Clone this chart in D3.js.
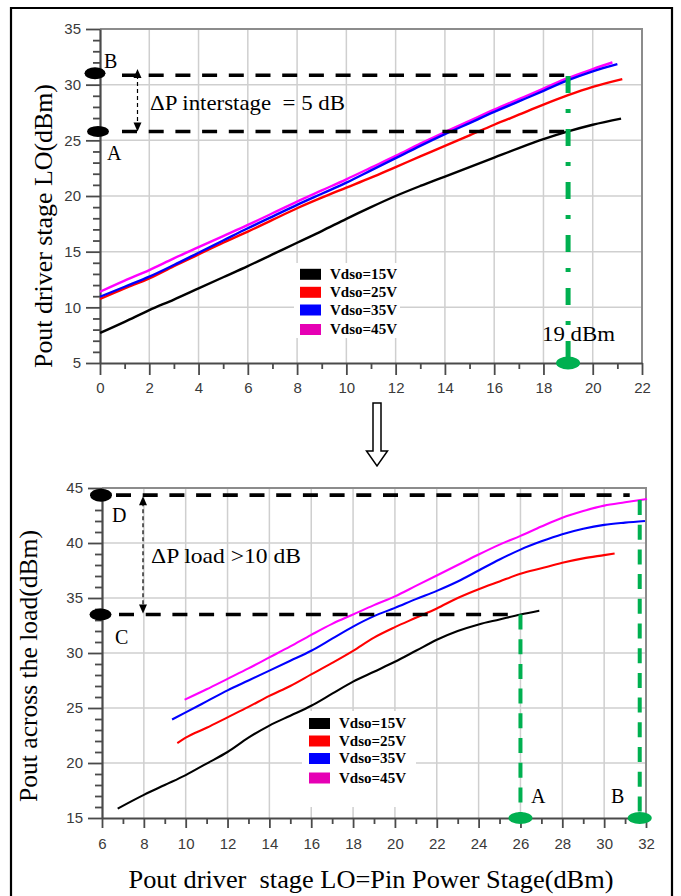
<!DOCTYPE html>
<html><head><meta charset="utf-8">
<script src="https://cdn.jsdelivr.net/npm/d3@7"></script>
<style>html,body{margin:0;padding:0;background:#fff;} svg{display:block} text{white-space:pre}</style>
</head><body><svg id="c" width="681" height="896"></svg>
<script>
// ---------- DATA ----------
const seriesNames = ["Vdso=15V", "Vdso=25V", "Vdso=35V", "Vdso=45V"];
const lineColors = ["#000000", "#ff0000", "#0000ff", "#ff00ff"];
const swatchColors = ["#000000", "#ff0000", "#0000ff", "#e600b4"];

// Top chart: Pin (dBm) -> Pout driver stage LO (dBm)
const top15 = [[0,7.7],[1,8.7],[2,9.75],[3,10.7],[4,11.7],[5,12.7],[6,13.7],[7,14.75],[8,15.8],[9,16.85],[10,17.95],[11,19.0],[12,20.0],[13,20.9],[14,21.75],[15,22.6],[16,23.45],[17,24.3],[18,25.1],[19,25.8],[20,26.4],[21.15,26.95]];
const top25 = [[0,10.75],[1,11.7],[2,12.6],[3,13.7],[4,14.75],[5,15.8],[6,16.8],[7,17.85],[8,18.9],[9,19.85],[10,20.75],[11,21.65],[12,22.6],[13,23.55],[14,24.5],[15,25.45],[16,26.4],[17,27.3],[18,28.2],[19,29.05],[20,29.8],[21.2,30.5]];
const top35 = [[0,10.95],[1,11.85],[2,12.75],[3,13.8],[4,14.9],[5,16.0],[6,17.1],[7,18.15],[8,19.2],[9,20.2],[10,21.2],[11,22.3],[12,23.4],[13,24.5],[14,25.55],[15,26.55],[16,27.55],[17,28.5],[18,29.45],[19,30.4],[20,31.2],[21.0,31.85]];
const top45 = [[0,11.4],[1,12.4],[2,13.35],[3,14.4],[4,15.4],[5,16.4],[6,17.4],[7,18.45],[8,19.5],[9,20.5],[10,21.5],[11,22.55],[12,23.6],[13,24.7],[14,25.75],[15,26.75],[16,27.75],[17,28.7],[18,29.65],[19,30.6],[20,31.4],[20.8,32.0]];

// Bottom chart: Pout driver stage LO = Pin power stage -> Pout across the load
const bot15 = [[6.75,15.85],[8,17.1],[9,18.0],[10,18.9],[11,19.95],[12,21.0],[13,22.3],[14,23.4],[15,24.3],[16,25.2],[17,26.3],[18,27.4],[19,28.3],[20,29.2],[21,30.2],[22,31.2],[23,32.0],[24,32.6],[25,33.05],[26,33.5],[26.9,33.85]];
const bot25 = [[9.6,21.8],[10,22.3],[11,23.2],[12,24.15],[13,25.1],[14,26.1],[15,27.0],[16,28.05],[17,29.1],[18,30.2],[19,31.4],[20,32.35],[21,33.2],[22,34.05],[23,35.0],[24,35.8],[25,36.5],[26,37.2],[27,37.7],[28,38.2],[29,38.6],[30,38.9],[30.5,39.05]];
const bot35 = [[9.35,23.95],[10,24.6],[11,25.6],[12,26.6],[13,27.5],[14,28.4],[15,29.3],[16,30.2],[17,31.3],[18,32.4],[19,33.35],[20,34.1],[21,34.9],[22,35.65],[23,36.5],[24,37.5],[25,38.5],[26,39.4],[27,40.15],[28,40.8],[29,41.3],[30,41.65],[31,41.85],[31.95,42.0]];
const bot45 = [[9.95,25.75],[11,26.7],[12,27.65],[13,28.6],[14,29.6],[15,30.6],[16,31.65],[17,32.65],[18,33.5],[19,34.35],[20,35.15],[21,36.1],[22,37.05],[23,38.0],[24,38.95],[25,39.85],[26,40.65],[27,41.5],[28,42.3],[29,42.9],[30,43.4],[31,43.7],[32.05,44.0]];

const topXTicks = [0,2,4,6,8,10,12,14,16,18,20,22];
const topYTicks = [5,10,15,20,25,30,35];
const botXTicks = [6,8,10,12,14,16,18,20,22,24,26,28,30,32];
const botYTicks = [15,20,25,30,35,40,45];

// annotation levels
const topLevelB = 30.85, topLevelA = 25.8, topMarker = 19;
const botLevelD = 44.35, botLevelC = 33.5, botMarkA = 26, botMarkB = 31.7;

const topYTitle = "Pout driver stage LO(dBm)";
const botYTitle = "Pout across the load(dBm)";
const botXTitle = "Pout driver  stage LO=Pin Power Stage(dBm)";
const topNote = "\u0394P interstage  = 5 dB";
const botNote = "\u0394P load >10 dB";
const topMarkerLabel = "19 dBm";

// ---------- DRAW ----------
const svg = d3.select("#c");
const GREEN = "#00b050";
const SERIF = "'Liberation Serif','Times New Roman',serif";
const SANS = "'Liberation Sans',Arial,sans-serif";

// outer frame
svg.append("path").attr("d","M11,896 V8 H672 V896").attr("fill","none").attr("stroke","#000").attr("stroke-width",2.2);

function range(a,b,s){const r=[];for(let v=a;v<=b+1e-9;v+=s)r.push(+v.toFixed(6));return r;}

function panel(cfg){
  const g = svg.append("g");
  const x = d3.scaleLinear().domain(cfg.xDom).range(cfg.xRange);
  const y = d3.scaleLinear().domain(cfg.yDom).range(cfg.yRange);
  const [xl,xr] = cfg.xRange, [yb,yt] = cfg.yRange;
  // grid
  g.append("g").selectAll("line").data(cfg.xTicks.slice(1,-1)).join("line")
    .attr("x1",d=>x(d)).attr("x2",d=>x(d)).attr("y1",yt).attr("y2",yb)
    .attr("stroke","#cfcfcf").attr("stroke-width",1.5);
  g.append("g").selectAll("line").data(cfg.yTicks.slice(1,-1)).join("line")
    .attr("y1",d=>y(d)).attr("y2",d=>y(d)).attr("x1",xl).attr("x2",xr)
    .attr("stroke","#cfcfcf").attr("stroke-width",1.5);
  // frame top/right
  g.append("path").attr("d",`M${xl},${yt} H${xr} V${yb}`).attr("fill","none").attr("stroke","#8c8c8c").attr("stroke-width",2);
  // legend background
  const L = cfg.legend;
  g.append("rect").attr("x",L.bg[0]).attr("y",L.bg[1]).attr("width",L.bg[2]).attr("height",L.bg[3]).attr("fill","#fff");
  L.rows.forEach((cy,i)=>{
    g.append("rect").attr("x",L.sx).attr("y",cy-5.5).attr("width",21).attr("height",11).attr("fill",swatchColors[i]);
    g.append("text").attr("x",L.tx).attr("y",cy+4.5).text(seriesNames[i])
      .attr("font-family",SERIF).attr("font-weight","bold").attr("font-size",14)
      .attr("textLength",67).attr("lengthAdjust","spacingAndGlyphs").attr("fill","#000");
  });
  // axes
  const minorX = range(cfg.xDom[0],cfg.xDom[1],1).filter(v=>!cfg.xTicks.includes(v));
  const minorY = range(cfg.yDom[0],cfg.yDom[1],1).filter(v=>!cfg.yTicks.includes(v));
  const ax = g.append("g").attr("transform",`translate(0,${yb})`);
  ax.call(d3.axisBottom(x).tickValues(cfg.xTicks).tickSize(cfg.xTickLen).tickPadding(cfg.xPad).tickSizeOuter(0).tickFormat(d3.format("d")));
  const axm = g.append("g").attr("transform",`translate(0,${yb})`);
  axm.call(d3.axisBottom(x).tickValues(minorX).tickSize(6).tickFormat("").tickSizeOuter(0));
  axm.select(".domain").remove();
  const ay = g.append("g").attr("transform",`translate(${xl},0)`);
  ay.call(d3.axisLeft(y).tickValues(cfg.yTicks).tickSize(14).tickPadding(5).tickSizeOuter(0).tickFormat(d3.format("d")));
  const aym = g.append("g").attr("transform",`translate(${xl},0)`);
  aym.call(d3.axisLeft(y).tickValues(minorY).tickSize(7).tickFormat("").tickSizeOuter(0));
  aym.select(".domain").remove();
  [ax,axm,ay,aym].forEach(a=>{
    a.selectAll(".domain").attr("stroke","#4a4a4a").attr("stroke-width",2.2);
    a.selectAll(".tick line").attr("stroke","#4a4a4a").attr("stroke-width",1.8);
    a.selectAll(".tick text").attr("font-family",SANS).attr("font-size",15).attr("fill","#3a3a3a");
  });
  // curves
  const line = d3.line().x(d=>x(d[0])).y(d=>y(d[1])).curve(d3.curveMonotoneX);
  cfg.series.forEach((s,i)=>{
    g.append("path").attr("d",line(s)).attr("fill","none").attr("stroke",lineColors[cfg.order[i]])
      .attr("stroke-width",cfg.lw).attr("stroke-linejoin","round");
  });
  return {g,x,y};
}

function dashedH(g, x1, x2, yy){
  g.append("line").attr("x1",x1).attr("x2",x2).attr("y1",yy).attr("y2",yy)
    .attr("stroke","#000").attr("stroke-width",3.6).attr("stroke-dasharray","15,11.7");
}
function dot(g, cx, cy, rx, ry, col){
  g.append("ellipse").attr("cx",cx).attr("cy",cy).attr("rx",rx).attr("ry",ry).attr("fill",col);
}
function dArrow(g, x, yTop, yBot){
  g.append("line").attr("x1",x).attr("x2",x).attr("y1",yTop+6).attr("y2",yBot-6)
    .attr("stroke","#000").attr("stroke-width",1.2).attr("stroke-dasharray","4,3");
  g.append("path").attr("d",`M${x},${yTop} L${x-4},${yTop+9} L${x+4},${yTop+9} Z`).attr("fill","#000");
  g.append("path").attr("d",`M${x},${yBot} L${x-4},${yBot-9} L${x+4},${yBot-9} Z`).attr("fill","#000");
}
function label(g, x, y, txt, size, len, anchor){
  const t = g.append("text").attr("x",x).attr("y",y).text(txt).attr("font-family",SERIF)
    .attr("font-size",size).attr("fill","#000").attr("text-anchor",anchor||"start");
  if(len) t.attr("textLength",len).attr("lengthAdjust","spacingAndGlyphs");
  return t;
}

// ---- top panel ----
const T = panel({
  xDom:[0,22], yDom:[5,35], xRange:[100,642], yRange:[363,29],
  xTicks:topXTicks, yTicks:topYTicks, xTickLen:12, xPad:7,
  series:[top15,top25,top45,top35], order:[0,1,3,2], lw:2.4,
  legend:{bg:[294,263,106,75], sx:300, tx:330, rows:[274.3,292.3,310,329.5]}
});
{
  const {g,x,y} = T;
  const yB = y(topLevelB), yA = y(topLevelA), xm = x(topMarker);
  dashedH(g, 122, xm-3, yB);
  dashedH(g, 122, xm-3, yA);
  dot(g, 95, yB-2, 10.5, 6, "#000");
  dot(g, 98, yA, 11, 5.5, "#000");
  label(g, 104, 68, "B", 20);
  label(g, 107, 160, "A", 20);
  dArrow(g, 137.5, 69, yA);
  label(g, 150, 110, topNote, 22, 195);
  // green dash-dot marker at 19 dBm
  g.append("line").attr("x1",xm).attr("x2",xm).attr("y1",76).attr("y2",y(5))
    .attr("stroke",GREEN).attr("stroke-width",5).attr("stroke-dasharray","17,16,4,16");
  dot(g, xm, y(5), 12, 6.5, GREEN);
  label(g, 542, 340.5, topMarkerLabel, 22, 73);
  g.append("text").attr("transform","translate(52,226) rotate(-90)").attr("text-anchor","middle")
    .attr("font-family",SERIF).attr("font-size",26).attr("textLength",284).attr("lengthAdjust","spacingAndGlyphs").text(topYTitle);
}

// ---- arrow between panels ----
svg.append("path").attr("d","M373,403 H381 V451 H387.5 L377,466 L366.5,451 H373 Z")
  .attr("fill","#fff").attr("stroke","#000").attr("stroke-width",1.5);

// ---- bottom panel ----
const B = panel({
  xDom:[6,32], yDom:[15,45], xRange:[102,646], yRange:[818,488],
  xTicks:botXTicks, yTicks:botYTicks, xTickLen:10, xPad:10,
  series:[bot15,bot25,bot35,bot45], order:[0,1,2,3], lw:2.1,
  legend:{bg:[302,711,114,96], sx:309, tx:339, rows:[723.5,741,758.5,778]}
});
{
  const {g,x,y} = B;
  const yD = y(botLevelD), yC = y(botLevelC), xA = x(botMarkA), xB = x(botMarkB);
  dashedH(g, 116, xB-10, yD);
  dashedH(g, 119, xA-2, yC);
  dot(g, 101, yD, 11, 6.5, "#000");
  dot(g, 100.5, yC, 11, 6, "#000");
  label(g, 112, 522, "D", 20);
  label(g, 115, 644, "C", 20);
  dArrow(g, 143, yD+1, yC-1);
  label(g, 151, 563, botNote, 22, 150);
  g.append("line").attr("x1",xA).attr("x2",xA).attr("y1",yC).attr("y2",y(15))
    .attr("stroke",GREEN).attr("stroke-width",4).attr("stroke-dasharray","15,9.7");
  g.append("line").attr("x1",xB).attr("x2",xB).attr("y1",500).attr("y2",y(15))
    .attr("stroke",GREEN).attr("stroke-width",4).attr("stroke-dasharray","15,9.7");
  dot(g, xA, y(15), 12, 6, GREEN);
  dot(g, xB, y(15), 12, 6, GREEN);
  label(g, 531, 803, "A", 20);
  label(g, 611, 803, "B", 20);
  g.append("text").attr("transform","translate(37,666) rotate(-90)").attr("text-anchor","middle")
    .attr("font-family",SERIF).attr("font-size",26).attr("textLength",272).attr("lengthAdjust","spacingAndGlyphs").text(botYTitle);
  g.append("text").attr("x",371).attr("y",888).attr("text-anchor","middle")
    .attr("font-family",SERIF).attr("font-size",26).attr("textLength",485).attr("lengthAdjust","spacingAndGlyphs").text(botXTitle);
}
</script></body></html>
